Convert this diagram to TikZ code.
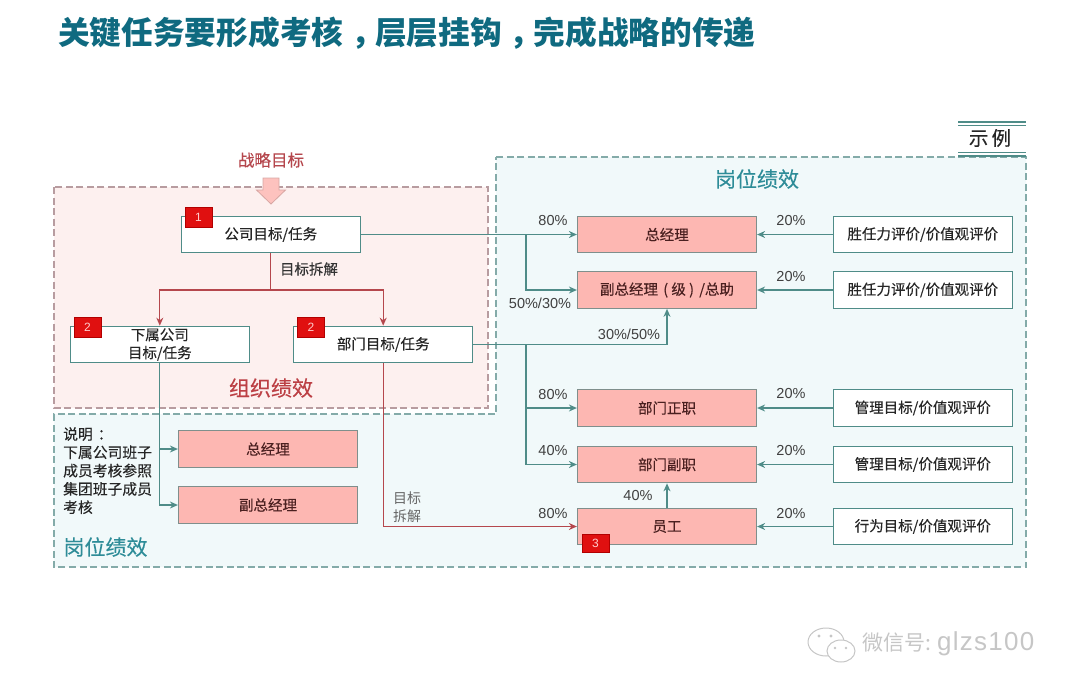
\documentclass[tikz,border=0pt]{standalone}
\usepackage{fontspec}
\setmainfont{Noto Sans CJK SC}
\newfontfamily\latinfont{Liberation Sans}
\newfontfamily\medfont[FakeBold=0.25]{Noto Sans CJK SC}
\newfontfamily\wmlatin[LetterSpace=5]{Liberation Sans}
\usetikzlibrary{arrows.meta,calc}
\definecolor{titleteal}{HTML}{0F6A80}
\definecolor{zonetealtext}{HTML}{2E8C98}
\definecolor{lineteal}{HTML}{4F8C88}
\definecolor{linered}{HTML}{B5474D}
\definecolor{pinkfill}{HTML}{FDB7B2}
\definecolor{boxedge}{HTML}{7F8F8C}
\definecolor{badgered}{HTML}{E01010}
\definecolor{zonered}{HTML}{FDF0EF}
\definecolor{zoneteal}{HTML}{F1F9FA}
\definecolor{dashred}{HTML}{B89CA0}
\definecolor{dashteal}{HTML}{84ABA9}
\definecolor{wmgray}{HTML}{C6C6C6}
\definecolor{pinktext}{HTML}{4A2020}
\newcommand{\fs}[1]{\fontsize{#1}{#1}\selectfont}
\tikzset{
  whitebox/.style={draw=lineteal,line width=1.2pt,fill=white,minimum width=179pt,minimum height=36.5pt,inner sep=0pt,align=center,text=black!85,font=\medfont\fs{14.5}},
  pinkbox/.style={draw=boxedge,line width=1.2pt,fill=pinkfill,minimum width=179pt,minimum height=36.5pt,inner sep=0pt,align=center,text=pinktext,font=\medfont\fs{14.5}},
  badge/.style={fill=badgered,draw=red!70!black,line width=.4pt,minimum width=27pt,minimum height=20pt,inner sep=0pt,text=white!80!red,font=\latinfont\fs{12}},
  pct/.style={text=black!75,font=\latinfont\fs{14.5},inner sep=0pt},
  zonetitle/.style={font=\medfont\fs{21},inner sep=0pt},
  tealarrow/.style={draw=lineteal,line width=1.3pt,-{Stealth[length=8pt,width=7pt]}},
  tealline/.style={draw=lineteal,line width=1.3pt},
  redarrow/.style={draw=linered,line width=1.3pt,-{Stealth[length=8pt,width=7pt]}},
  redline/.style={draw=linered,line width=1.3pt},
  zonedash/.style={line width=1.2pt,dash pattern=on 7pt off 3.5pt},
}
\begin{document}
\begin{tikzpicture}[x=1pt,y=-1pt]
\useasboundingbox (0,0) rectangle (1080,694);
% title
\node[anchor=west,inner sep=0pt,text=titleteal,font=\bfseries\fs{31.7}] (title) at (58,33) {关键任务要形成考核\hspace{8pt}，\hspace{-8pt}层层挂钩\hspace{8pt}，\hspace{-8pt}完成战略的传递};
% zones
\draw[fill=zoneteal,draw=dashteal,zonedash] (496,157) -- (1026,157) -- (1026,567) -- (54,567) -- (54,414) -- (496,414) -- cycle;
\draw[fill=zonered,draw=dashred,zonedash] (54,187) rectangle (488,408);
% example tag
\node[inner sep=0pt,text=black!85,font=\medfont\fs{19.5}] (example) at (990,138) {示\,例};
\draw[lineteal,line width=1.2pt] (958,122) -- (1026,122) (958,125.5) -- (1026,125.5);
\draw[lineteal,line width=1.2pt] (958,152.5) -- (1026,152.5) (958,156) -- (1026,156);
% strategic goal
\node[inner sep=0pt,text=linered,font=\medfont\fs{16.5}] (goal) at (271,160) {战略目标};
\draw[fill=pinkfill!85!white,draw=pinkfill!70!gray,line width=.8pt] (263,178) -- (279,178) -- (279,190) -- (285.5,190) -- (271,204) -- (256.5,190) -- (263,190) -- cycle;
% organisation boxes
\node[whitebox] (co) at (270.8,234.5) {公司目标/任务};
\node[whitebox] (sub) at (159.8,344.5) {下属公司\\[3.5pt]目标/任务};
\node[whitebox] (dept) at (383.2,344.5) {部门目标/任务};
\node[zonetitle,text=linered!90!red] (orgt) at (271,388) {组织绩效};
\node[inner sep=0pt,text=black!80,font=\medfont\fs{14.5}] (split) at (309,269) {目标拆解};
% junctions
\coordinate (j0) at (270.8,290);
\coordinate (ja) at (526,234.5);
\coordinate (jb) at (526,344.5);
% position boxes
\node[pinkbox] (gm) at (667,234.5) {总经理};
\node[pinkbox] (vp) at (667,290) {副总经理\hspace{2pt} ( 级 ) \hspace{2pt}/总助};
\node[pinkbox] (dm) at (667,408) {部门正职};
\node[pinkbox] (dv) at (667,464.5) {部门副职};
\node[pinkbox] (st) at (667,526.5) {员工};
\node[whitebox] (r1) at (922.8,234.5) {胜任力评价/价值观评价};
\node[whitebox] (r2) at (922.8,290) {胜任力评价/价值观评价};
\node[whitebox] (r3) at (922.8,408) {管理目标/价值观评价};
\node[whitebox] (r4) at (922.8,464.5) {管理目标/价值观评价};
\node[whitebox] (r5) at (922.8,526.5) {行为目标/价值观评价};
\node[pinkbox] (lgm) at (268,449) {总经理};
\node[pinkbox] (lvp) at (268,505) {副总经理};
% red connectors
\draw[redline] (co.south) -- (j0);
\draw[redarrow] (j0) -| (sub.north);
\draw[redarrow] (j0) -| (dept.north);
\draw[redarrow] (dept.south) |- (st.west);
% teal connectors
\draw[tealline] (co.east) -- (ja);
\draw[tealarrow] (ja) -- (gm.west);
\draw[tealarrow] (ja) |- (vp.west);
\draw[tealarrow] (dept.east) -| (vp.south);
\draw[tealarrow] (jb) |- (dm.west);
\draw[tealarrow] (jb) |- (dv.west);
\draw[tealarrow] (st.north) -- (dv.south);
\draw[tealarrow] (sub.south) |- (lgm.west);
\draw[tealarrow] (sub.south) |- (lvp.west);
\draw[tealarrow] (r1.west) -- (gm.east);
\draw[tealarrow] (r2.west) -- (vp.east);
\draw[tealarrow] (r3.west) -- (dm.east);
\draw[tealarrow] (r4.west) -- (dv.east);
\draw[tealarrow] (r5.west) -- (st.east);
% badges
\node[badge] (b1) at (198.5,217.5) {1};
\node[badge] (b2) at (87.5,327.5) {2};
\node[badge] (b3) at (311,327.5) {2};
\node[badge,minimum height=18pt] (b4) at (595.5,543) {3};
% percent labels
\node[pct] (p1) at (553,221) {80\%};
\node[pct] (p2) at (791,221) {20\%};
\node[pct] (p3) at (791,277) {20\%};
\node[pct] (p4) at (540,303) {50\%/30\%};
\node[pct] (p5) at (629,334) {30\%/50\%};
\node[pct] (p6) at (553,395) {80\%};
\node[pct] (p7) at (791,394) {20\%};
\node[pct] (p8) at (553,451) {40\%};
\node[pct] (p9) at (791,451) {20\%};
\node[pct] (p10) at (638,496) {40\%};
\node[pct] (p11) at (553,514) {80\%};
\node[pct] (p12) at (791,514) {20\%};
% zone titles, notes
\node[zonetitle,text=zonetealtext] (post1) at (757,179) {岗位绩效};
\node[zonetitle,text=zonetealtext] (post2) at (105.5,547) {岗位绩效};
\node[anchor=north west,inner sep=0pt,align=left,text=black!85,font=\medfont\fontsize{14.8}{18.3}\selectfont] (note) at (63,427) {说明\hspace{5pt}：\\下属公司班子\\成员考核参照\\集团班子成员\\考核};
\node[anchor=north west,inner sep=0pt,align=left,text=black!60,font=\fontsize{14}{18}\selectfont] (split2) at (393,492) {目标\\拆解};
% watermark
\draw[wmgray,line width=1pt,fill=white] (826,642) ellipse (18pt and 14pt);
\draw[wmgray,line width=1pt,fill=white] (841,651) ellipse (14pt and 11pt);
\fill[wmgray] (819,636) circle (1.6pt) (831,636) circle (1.6pt) (835,648) circle (1.3pt) (846,648) circle (1.3pt);
\node[anchor=west,inner sep=0pt,text=wmgray,font=\fs{21}] (wm) at (862,644) {微信号:\hspace{6pt}{\wmlatin\fs{26}glzs100}};
\end{tikzpicture}
\end{document}
